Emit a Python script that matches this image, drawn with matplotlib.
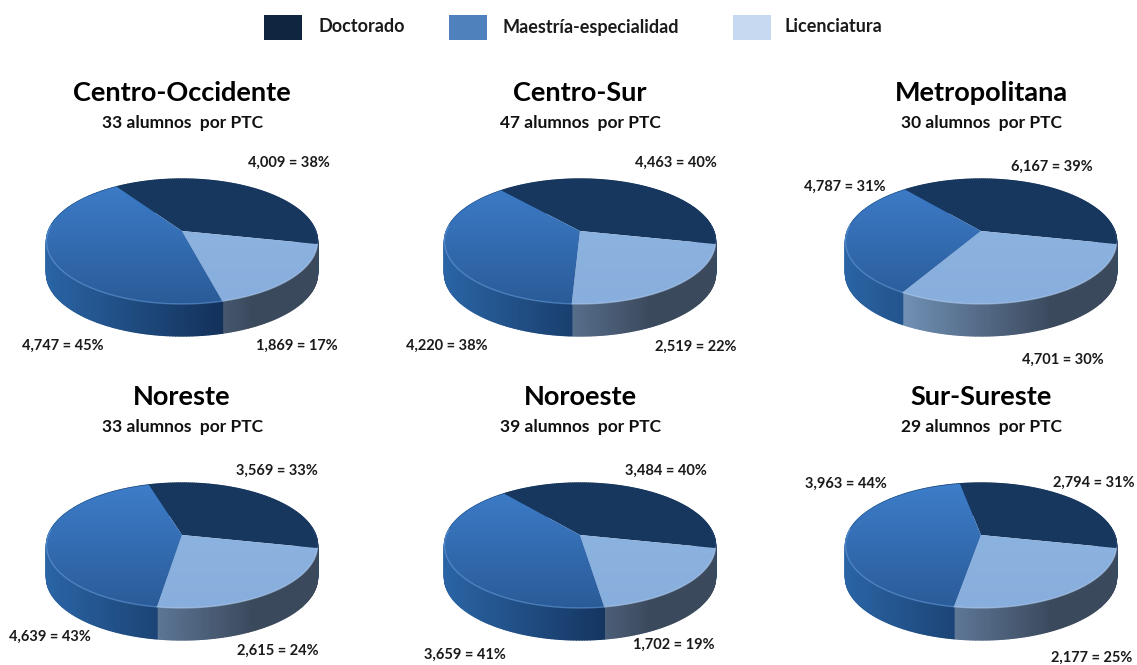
import matplotlib
matplotlib.use('Agg')
import matplotlib.pyplot as plt
import numpy as np
from matplotlib.colors import LinearSegmentedColormap, to_rgb
from matplotlib.collections import PolyCollection
from matplotlib.patches import Polygon, Rectangle

regiones = ['Centro-Occidente', 'Centro-Sur', 'Metropolitana', 'Noreste', 'Noroeste', 'Sur-Sureste']
alumnos_ptc = [33, 47, 30, 33, 39, 29]
niveles = ['Doctorado', 'Maestría-especialidad', 'Licenciatura']
doctorado = [4009, 4463, 6167, 3569, 3484, 2794]
maestria = [4747, 4220, 4787, 4639, 3659, 3963]
licenciatura = [1869, 2519, 4701, 2615, 1702, 2177]
pct_doctorado = [38, 40, 39, 33, 40, 31]
pct_maestria = [45, 38, 31, 43, 41, 44]
pct_licenciatura = [17, 22, 30, 24, 19, 25]

# layout en pixeles de la imagen
centros_x = [182, 580, 981, 182, 580, 981]
centros_y = [231, 231, 231, 535, 535, 535]
pos_doc = [(289, 163), (676, 163), (1052, 167), (277, 471), (666, 471), (1094, 483)]
pos_mae = [(63, 346), (447, 346), (845, 187), (50, 637), (465, 655), (846, 484)]
pos_lic = [(297, 346), (696, 347), (1063, 360), (278, 651), (674, 645), (1092, 658)]

A = 133.6
B = 60.7
K = 0.168
PROF = 32
FIN_DOC = -12  # angulo donde termina doctorado

plt.rcParams['font.family'] = ['Lato', 'DejaVu Sans']

fig = plt.figure(figsize=(11.37, 6.65), dpi=100)
ax = fig.add_axes([0, 0, 1, 1])


def borde(cx, cy, ang):
    # circulo proyectado en perspectiva
    r = np.radians(ang)
    w = 1 + K * np.sin(r)
    return cx + A * np.cos(r) / w, cy - B * np.sin(r) / w


def mezcla(c1, c2, f):
    c1 = np.array(to_rgb(c1))
    c2 = np.array(to_rgb(c2))
    return tuple(c1 + (c2 - c1) * np.clip(f, 0, 1))


# orden de dibujo: doctorado, licenciatura, maestria (sentido horario)
colores_lado = [('#17375e', '#17375e', -135, 135),
                ('#7293b8', '#3b495d', -85, 70),
                ('#2a64a4', '#13315a', -135, 40)]
colores_tope = [('#17375e', '#17375e'), ('#8fb5e2', '#88aedd'), ('#3e7ecb', '#2a5b98')]
colores_luz = ['#2a4a75', '#b5cff0', '#6a9fdd']

for i in range(6):
    cx = centros_x[i]
    cy = centros_y[i]
    vals = [doctorado[i], licenciatura[i], maestria[i]]
    total = sum(vals)
    ini = FIN_DOC + 360 * vals[0] / total
    angulos = [ini]
    for v in vals:
        angulos.append(angulos[-1] - 360 * v / total)

    # cara lateral
    for j in range(3):
        a = np.arange(angulos[j], angulos[j + 1] - 1, -1.0)
        a[-1] = angulos[j + 1]
        xs, ys = borde(cx, cy, a)
        quads = []
        cols = []
        c1, c2, x1, x2 = colores_lado[j]
        for k in range(len(a) - 1):
            quads.append([(xs[k], ys[k]), (xs[k + 1], ys[k + 1]),
                          (xs[k + 1], ys[k + 1] + PROF), (xs[k], ys[k] + PROF)])
            f = ((xs[k] + xs[k + 1]) / 2 - cx - x1) / (x2 - x1)
            cols.append(mezcla(c1, c2, f))
        ax.add_collection(PolyCollection(quads, facecolors=cols, edgecolors=cols, linewidths=1.0, zorder=2))

    # cara superior
    for j in range(3):
        a = np.linspace(angulos[j], angulos[j + 1], 150)
        xs, ys = borde(cx, cy, a)
        pts = np.column_stack([np.r_[cx, xs], np.r_[cy, ys]])
        pol = Polygon(pts, closed=True, fc='none', ec='none', transform=ax.transData)
        ax.add_patch(pol)
        cmap = LinearSegmentedColormap.from_list('t', colores_tope[j])
        grad = np.linspace(0, 1, 100).reshape(-1, 1)
        img = ax.imshow(grad, cmap=cmap, extent=(cx - 140, cx + 140, cy + 75, cy - 55),
                        aspect='auto', zorder=3, interpolation='bilinear')
        img.set_clip_path(pol)

        # brillo del borde frontal
        frente = np.sin(np.radians(a)) < 0.1
        ax.plot(xs[frente], ys[frente], color=colores_luz[j], lw=1.0, alpha=0.55, zorder=4)

    ax.text(cx, centros_y[i] - 138, regiones[i], ha='center', va='center',
            fontsize=19.5, fontweight='bold', color='black')
    ax.text(cx, centros_y[i] - 108, f'{alumnos_ptc[i]} alumnos  por PTC', ha='center', va='center',
            fontsize=12.5, fontweight='bold', color='#111111')

    ax.text(*pos_doc[i], f'{doctorado[i]:,} = {pct_doctorado[i]}%', ha='center', va='center',
            fontsize=10.5, fontweight='bold', color='#1a1a1a')
    ax.text(*pos_mae[i], f'{maestria[i]:,} = {pct_maestria[i]}%', ha='center', va='center',
            fontsize=10.5, fontweight='bold', color='#1a1a1a')
    ax.text(*pos_lic[i], f'{licenciatura[i]:,} = {pct_licenciatura[i]}%', ha='center', va='center',
            fontsize=10.5, fontweight='bold', color='#1a1a1a')

# leyenda
caja_x = [264, 449, 733]
texto_x = [318, 502, 784]
caja_col = ['#10253f', '#4f81bd', '#c6d9f1']
for i in range(3):
    ax.add_patch(Rectangle((caja_x[i], 15), 38, 25, fc=caja_col[i], ec='none', zorder=3))
    ax.text(texto_x[i], 27, niveles[i], ha='left', va='center', fontsize=13,
            fontweight='bold', color='#1a1a1a')

ax.set_xlim(0, 1137)
ax.set_ylim(665, 0)
ax.axis('off')
fig.savefig('out.png', dpi=100)
